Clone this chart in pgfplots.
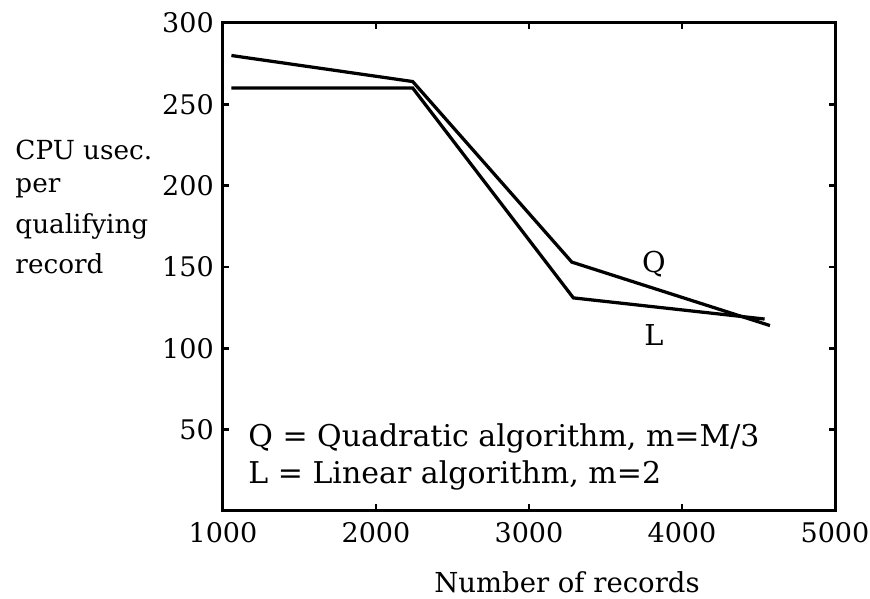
\documentclass[border=0pt]{standalone}
\usepackage{fontspec}
\setmainfont{DejaVu Serif}
\usepackage{pgfplots}
\pgfplotsset{compat=1.18}

\begin{document}
\fontsize{10.5pt}{12.6pt}\selectfont
\begin{tikzpicture}
\begin{axis}[
    scale only axis,
    width=244.8pt, height=195.2pt,
    xmin=1000, xmax=5000,
    ymin=0, ymax=300,
    xtick={1000,2000,3000,4000,5000},
    ytick={50,100,150,200,250,300},
    tick align=inside,
    major tick length=2.6pt,
    axis line style={line width=1.2pt},
    tick style={line width=1pt, black},
    /pgf/number format/assume math mode=true,
    /pgf/number format/1000 sep={},
    xticklabel style={font=\fontsize{10.8pt}{12pt}\selectfont, yshift=-1pt},
    yticklabel style={font=\fontsize{10.8pt}{12pt}\selectfont},
    clip=false,
]
% Q = quadratic
\addplot[black, line width=1.3pt] coordinates {
    (1055,280) (2240,264) (3280,153) (4575,114)
};
% L = linear
\addplot[black, line width=1.3pt] coordinates {
    (1055,260) (2240,260) (3290,131) (4540,118)
};
\node[font=\fontsize{11.5pt}{13pt}\selectfont] at (axis cs:3817,152) {Q};
\node[font=\fontsize{11.5pt}{13pt}\selectfont] at (axis cs:3817,108) {L};
\node[anchor=west, inner sep=0pt, font=\fontsize{12pt}{14pt}\selectfont] at (axis cs:1163,44.5) {Q = Quadratic algorithm, m=M/3};
\node[anchor=west, inner sep=0pt, font=\fontsize{12pt}{14pt}\selectfont] at (axis cs:1163,22) {L = Linear algorithm, m=2};
\end{axis}
% y label, lines at the left
\node[anchor=west, inner sep=0pt] at (-83.2pt,144.4pt) {CPU usec.};
\node[anchor=west, inner sep=0pt] at (-83.2pt,129.2pt) {per};
\node[anchor=west, inner sep=0pt] at (-83.2pt,114pt) {qualifying};
\node[anchor=west, inner sep=0pt] at (-83.2pt,98.8pt) {record};
\node[font=\fontsize{11pt}{13pt}\selectfont] at (137.6pt,-28.4pt) {Number of records};
\pgfresetboundingbox
\path[use as bounding box] (-89.2pt,-35.2pt) rectangle (258.8pt,204.4pt);
\end{tikzpicture}
\end{document}
